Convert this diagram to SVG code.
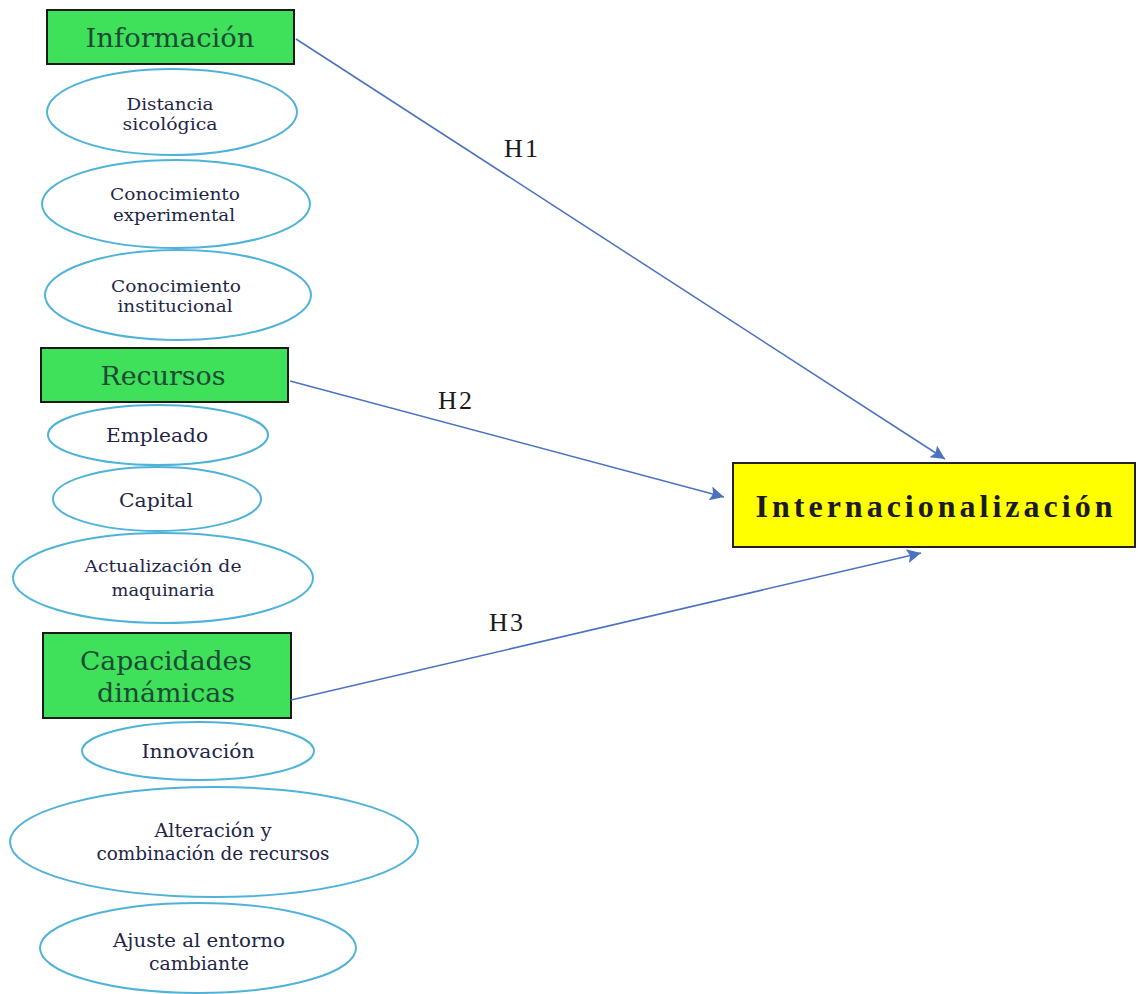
<svg xmlns="http://www.w3.org/2000/svg" width="1138" height="994" viewBox="0 0 1138 994">
<style>
.hdr{fill:#3fe05a;stroke:#1a1a1a;stroke-width:2}
.ht{font-family:"DejaVu Serif",serif;font-size:26px;fill:#1b4a36;text-anchor:middle}
.el{fill:#ffffff;stroke:#4fb3d9;stroke-width:2}
.et{font-family:"DejaVu Serif",serif;font-size:16px;fill:#1f2647;text-anchor:middle}
.ef{font-family:"DejaVu Serif",serif;font-size:18px;fill:#1f2647;text-anchor:middle}
.conn{stroke:#4a72c0;stroke-width:1.5;fill:none}
.lbl{font-family:"Liberation Serif",serif;font-size:26px;fill:#1a1a1a;text-anchor:middle;letter-spacing:2px}
</style>
<defs>
<marker id="ah" viewBox="0 0 10 10" refX="10" refY="5" markerWidth="18" markerHeight="14" markerUnits="userSpaceOnUse" orient="auto">
<path d="M0,0 L10,5 L0,10 L2,5 z" fill="#4a72c0"/>
</marker>
</defs>
<rect width="1138" height="994" fill="#ffffff"/>

<g id="informacion">
<rect class="hdr" x="47" y="10" width="247" height="54"/>
<text class="ht" x="170" y="47" textLength="169" lengthAdjust="spacingAndGlyphs">Información</text>
</g>
<g id="distancia">
<ellipse class="el" cx="172" cy="112" rx="125" ry="43"/>
<text class="et" x="170" y="110" textLength="87" lengthAdjust="spacingAndGlyphs">Distancia</text>
<text class="et" x="170" y="130" textLength="95" lengthAdjust="spacingAndGlyphs">sicológica</text>
</g>
<g id="conocimiento-exp">
<ellipse class="el" cx="176" cy="204" rx="134" ry="44"/>
<text class="et" x="175" y="200" textLength="130" lengthAdjust="spacingAndGlyphs">Conocimiento</text>
<text class="et" x="174" y="221" textLength="122" lengthAdjust="spacingAndGlyphs">experimental</text>
</g>
<g id="conocimiento-inst">
<ellipse class="el" cx="178" cy="295" rx="133" ry="45"/>
<text class="et" x="176" y="292" textLength="130" lengthAdjust="spacingAndGlyphs">Conocimiento</text>
<text class="et" x="175" y="312" textLength="115" lengthAdjust="spacingAndGlyphs">institucional</text>
</g>

<g id="recursos">
<rect class="hdr" x="41" y="348" width="247" height="54"/>
<text class="ht" x="163" y="385" textLength="125" lengthAdjust="spacingAndGlyphs">Recursos</text>
</g>
<g id="empleado">
<ellipse class="el" cx="158" cy="435" rx="110" ry="30"/>
<text class="ef" x="157" y="442" textLength="102" lengthAdjust="spacingAndGlyphs">Empleado</text>
</g>
<g id="capital">
<ellipse class="el" cx="157" cy="499" rx="104" ry="32"/>
<text class="ef" x="156" y="507" textLength="74" lengthAdjust="spacingAndGlyphs">Capital</text>
</g>
<g id="actualizacion">
<ellipse class="el" cx="163" cy="578" rx="150" ry="45"/>
<text class="et" x="163" y="572" textLength="157" lengthAdjust="spacingAndGlyphs">Actualización de</text>
<text class="et" x="163" y="596" textLength="103" lengthAdjust="spacingAndGlyphs">maquinaria</text>
</g>

<g id="capacidades">
<rect class="hdr" x="43" y="633" width="248" height="85"/>
<text class="ht" x="166" y="670" textLength="172" lengthAdjust="spacingAndGlyphs">Capacidades</text>
<text class="ht" x="166" y="702" textLength="138" lengthAdjust="spacingAndGlyphs">dinámicas</text>
</g>
<g id="innovacion">
<ellipse class="el" cx="198" cy="751" rx="116" ry="29"/>
<text class="ef" x="198" y="758" textLength="113" lengthAdjust="spacingAndGlyphs">Innovación</text>
</g>
<g id="alteracion">
<ellipse class="el" cx="214" cy="842" rx="204" ry="55"/>
<text class="ef" x="213" y="837" textLength="117" lengthAdjust="spacingAndGlyphs">Alteración y</text>
<text class="ef" x="213" y="860" textLength="233" lengthAdjust="spacingAndGlyphs">combinación de recursos</text>
</g>
<g id="ajuste">
<ellipse class="el" cx="198" cy="948" rx="158" ry="45"/>
<text class="ef" x="199" y="947" textLength="172" lengthAdjust="spacingAndGlyphs">Ajuste al entorno</text>
<text class="ef" x="199" y="970" textLength="100" lengthAdjust="spacingAndGlyphs">cambiante</text>
</g>

<g id="internacionalizacion">
<rect x="733" y="463" width="402" height="84" fill="#ffff00" stroke="#222222" stroke-width="2"/>
<text x="934" y="517" font-family="Liberation Serif, serif" font-size="32" font-weight="bold" fill="#1a1a2a" text-anchor="middle" textLength="357" lengthAdjust="spacing">Internacionalización</text>
</g>

<g id="connectors">
<line class="conn" x1="296" y1="39" x2="945" y2="459" marker-end="url(#ah)"/>
<line class="conn" x1="290" y1="381" x2="724" y2="497" marker-end="url(#ah)"/>
<line class="conn" x1="291" y1="700" x2="921" y2="553" marker-end="url(#ah)"/>
<text class="lbl" x="522" y="157">H1</text>
<text class="lbl" x="456" y="409">H2</text>
<text class="lbl" x="507" y="631">H3</text>
</g>
</svg>
